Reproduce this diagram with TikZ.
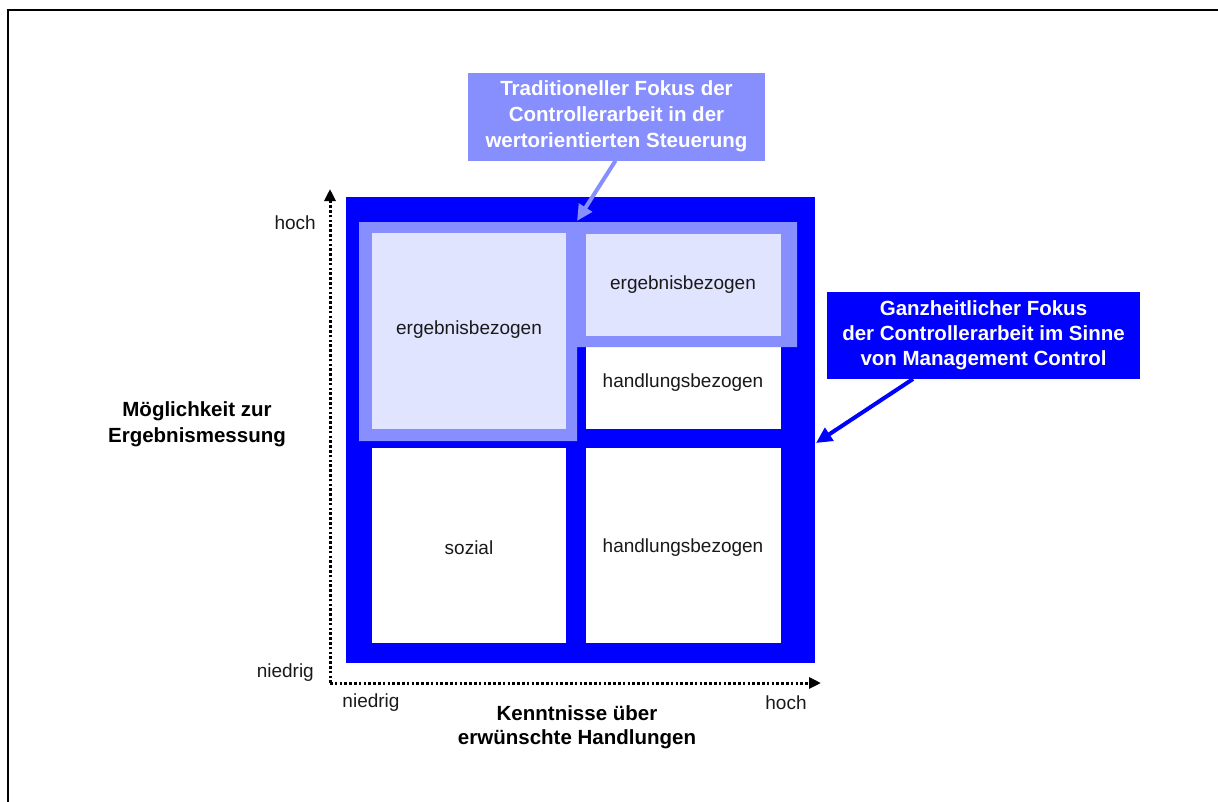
\documentclass[tikz,border=0pt]{standalone}
\usepackage{fontspec}
\setmainfont{Liberation Sans}
\usetikzlibrary{arrows.meta}
\definecolor{cblue}{HTML}{0000FF}
\definecolor{cmid}{HTML}{878FFF}
\definecolor{clight}{HTML}{E0E4FF}
\begin{document}
\begin{tikzpicture}[x=1pt,y=-1pt,
  txt/.style={font=\fontsize{19}{23}\selectfont, inner sep=0pt, text=black!90},
  btxt/.style={font=\fontsize{20.5}{26}\selectfont\bfseries, align=center, inner sep=0pt},
  axis/.style={line width=3pt, dash pattern=on 2.6pt off 2.2pt, -{Triangle[length=12pt,width=11pt]}},
  callarrow/.style={line width=4pt, -{Triangle[length=16pt,width=15pt]}}]
\useasboundingbox (0,0) rectangle (1218,801);
\draw[line width=2pt] (1220,10) -- (8,10) -- (8,803);
% outer blue block
\fill[cblue] (346,197) rectangle (815,663);
% white cells
\fill[white] (372,233) rectangle (566,429);
\fill[white] (586,233) rectangle (781,429);
\fill[white] (372,448) rectangle (566,643);
\fill[white] (586,448) rectangle (781,643);
% traditional focus overlay
\fill[cmid] (359,222) -- (797,222) -- (797,347) -- (577,347) -- (577,441) -- (359,441) -- cycle;
\fill[clight] (372,233) rectangle (566,429);
\fill[clight] (586,234) rectangle (781,336);
% cell texts
\node[txt] (tl) at (469,330) {ergebnisbezogen};
\node[txt] (tr) at (683,285) {ergebnisbezogen};
\node[txt] (trh) at (683,383) {handlungsbezogen};
\node[txt] (bl) at (469,548) {sozial};
\node[txt] (br) at (683,548) {handlungsbezogen};
% axes
\coordinate (o) at (330,683);
\coordinate (ytip) at (330,189);
\coordinate (xtip) at (821,683);
\draw[axis] (o) -- (ytip);
\draw[axis] (o) -- (xtip);
\node[txt, anchor=east] (yhoch) at (316,223) {hoch};
\node[txt, anchor=east] (yniedrig) at (314,673) {niedrig};
\node[txt] (xniedrig) at (371,703) {niedrig};
\node[txt] (xhoch) at (786,703) {hoch};
\node[btxt, font=\fontsize{20.5}{26}\selectfont\bfseries] (ylab) at (197,424) {Möglichkeit zur\\Ergebnismessung};
\node[btxt, font=\fontsize{20.5}{24}\selectfont\bfseries] (xlab) at (577,727) {Kenntnisse über\\erwünschte Handlungen};
% callouts
\node[btxt, fill=cmid, text=white, minimum width=297pt, minimum height=88pt] (c1) at (616.5,116.5) {Traditioneller Fokus der\\Controllerarbeit in der\\wertorientierten Steuerung};
\node[btxt, fill=cblue, text=white, minimum width=313pt, minimum height=87pt, font=\fontsize{20.5}{25}\selectfont\bfseries] (c2) at (983.5,335.5) {Ganzheitlicher Fokus\\der Controllerarbeit im Sinne\\von Management Control};
\coordinate (t1) at (577,221);
\coordinate (t2) at (816,443);
\draw[callarrow, cmid] (c1.south) ++(-1,0) coordinate (s1) -- (t1);
\draw[callarrow, cblue] (913,379) coordinate (s2) -- (t2);
\end{tikzpicture}
\end{document}
